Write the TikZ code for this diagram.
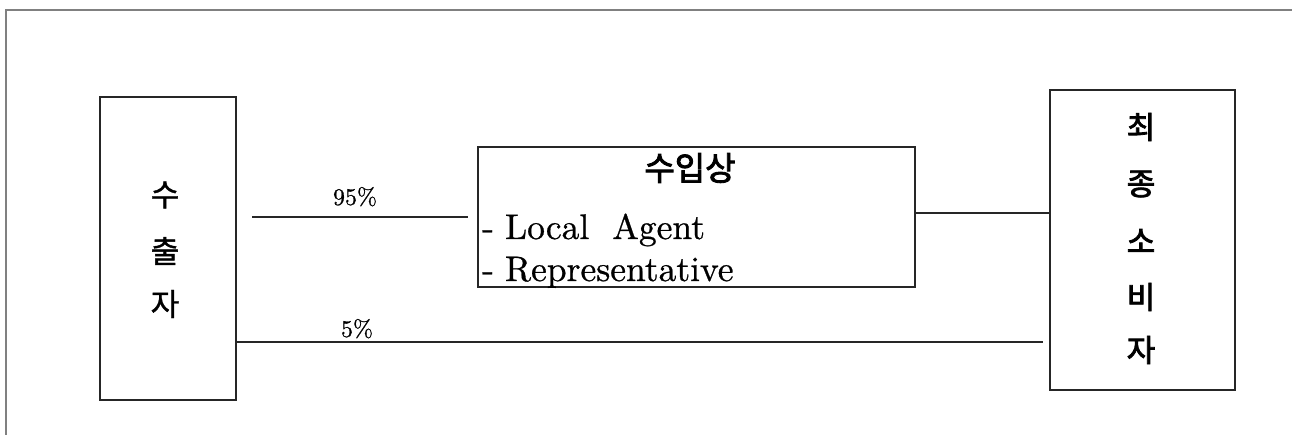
\documentclass[tikz,border=0pt]{standalone}
\usepackage{fontspec}
\newfontfamily\krl{Noto Sans CJK KR}[FakeBold=1.2]
\newfontfamily\krm{Noto Sans CJK KR}[FakeBold=2.6]
\newfontfamily\lmten{lmroman10-regular.otf}[FakeBold=0.7]
\begin{document}
\begin{tikzpicture}[x=1pt,y=-1pt,
  box/.style={draw=black!85,line width=1.3pt,inner sep=0pt,outer sep=0pt},
  link/.style={draw=black!85,line width=1.1pt},
  frame/.style={draw=black!50,line width=2.2pt},
  krleft/.style={font=\krl\fontsize{31}{33}\selectfont,inner sep=0pt},
  krright/.style={font=\krm\fontsize{31}{33}\selectfont,inner sep=0pt},
  pct/.style={font=\lmten\fontsize{24}{26}\selectfont,inner sep=0pt,anchor=base},
  item/.style={font=\lmten\fontsize{35.5}{38}\selectfont,inner sep=0pt,anchor=base west}]
\useasboundingbox (0,0) rectangle (1292,435);
% outer frame (top and left edges)
\coordinate (fa) at (6,435);
\coordinate (fb) at (6,10);
\coordinate (fc) at (1292,10);
\draw[frame] (fa) -- (fb) -- (fc);
% boxes
\node[box,minimum width=136pt,minimum height=303pt] (exp) at (168,248.5) {};
\node[box,minimum width=437pt,minimum height=140pt] (imp) at (696.5,217) {};
\node[box,minimum width=185pt,minimum height=300pt] (cons) at (1142.5,240) {};
% left box text
\node[krleft] (e1) at (165,195) {수};
\node[krleft] (e2) at (165,251) {출};
\node[krleft] (e3) at (165,304) {자};
% right box text
\node[krright] (c1) at (1141,127) {최};
\node[krright] (c2) at (1141,184) {종};
\node[krright] (c3) at (1141,241) {소};
\node[krright] (c4) at (1141,297) {비};
\node[krright] (c5) at (1141,350) {자};
% middle box text
\node[font=\krm\fontsize{33}{35}\selectfont,inner sep=0pt] (t) at (690,168) {수입상};
\node[item] (l1) at (482,239) {-\hspace{11pt}Local\hspace{23pt}Agent};
\node[item] (l2) at (482,281) {-\hspace{11pt}Representative};
% connectors
\coordinate (a1) at (252,217);
\coordinate (a2) at (468,217);
\draw[link] (a1) -- (a2);
\node[pct] (p95) at (355,205) {95\%};
\coordinate (b1) at (236,342);
\coordinate (b2) at (1043,342);
\draw[link] (b1) -- (b2);
\node[pct] (p5) at (357,337) {5\%};
\coordinate (m1) at (915,213);
\coordinate (m2) at (1050,213);
\draw[link] (m1) -- (m2);
\end{tikzpicture}
\end{document}
